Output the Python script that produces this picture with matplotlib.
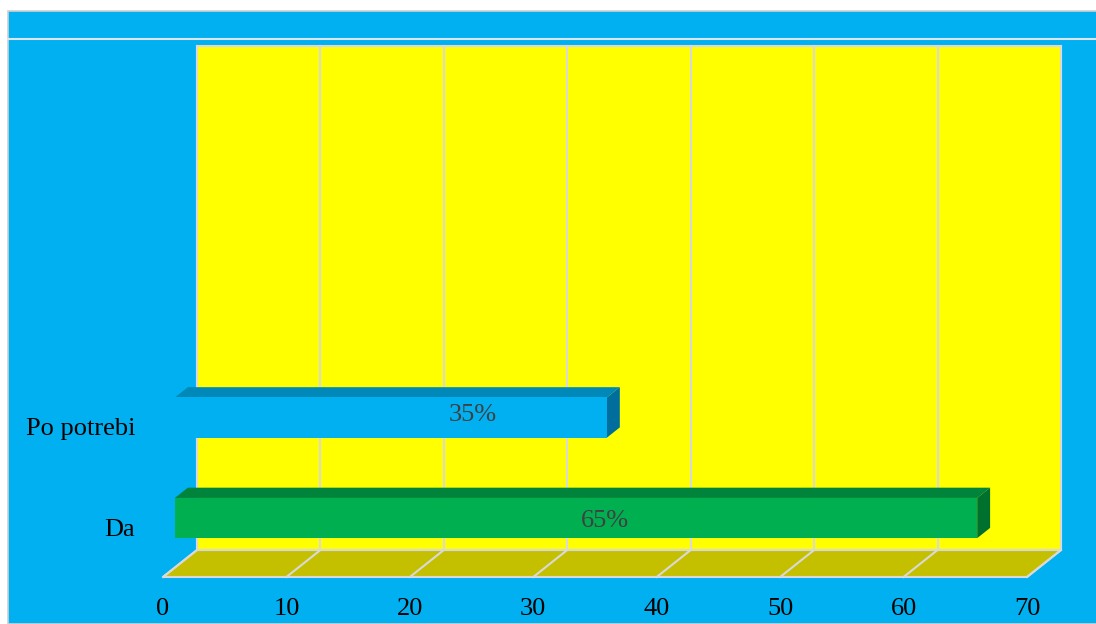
import matplotlib.pyplot as plt
from matplotlib.patches import Polygon, Rectangle

categories = ["Da", "Po potrebi"]
values = [65, 35]
value_labels = ["65%", "35%"]
label_pos = [34.85, 24.1]
label_shift = [-0.03, 0.03]
ticks = [0, 10, 20, 30, 40, 50, 60, 70]

front_colors = ["#00B050", "#00B0F0"]
top_colors = ["#00843C", "#0088B8"]
side_colors = ["#00702F", "#006E9C"]

BG = "#00B0F0"
WALL = "#FFFF00"
FLOOR_C = "#C4C000"
GRID = "#D9D9D9"

# depth offset of the 3D box (front -> back) in data units
DX = 2.755
DY = 0.2687
FLOOR = -0.4925
TOP = 4.522
BAR_H = 0.4
D0, D1 = 0.35, 0.73
FS = 19


def proj(v, y, d):
    return (v + d * DX, y + d * DY)


fig = plt.figure(figsize=(10.96, 6.24), dpi=100, facecolor="white")
fig.patches.append(Rectangle((8 / 1096, 0), 1, (624 - 11) / 624,
                             transform=fig.transFigure, facecolor=BG,
                             edgecolor="#D0D0D0", linewidth=1.2, zorder=-2))
fig.lines.append(plt.Line2D([8 / 1096, 1], [1 - 39 / 624, 1 - 39 / 624],
                            transform=fig.transFigure, color="#D9E6EE",
                            linewidth=1.5, zorder=-1))

ax = fig.add_axes([163 / 1096, 47 / 624, 864 / 1096, 531 / 624])
ax.set_xlim(0, 70)
ax.set_ylim(FLOOR, TOP + DY)
ax.patch.set_alpha(0)
for s in ax.spines.values():
    s.set_visible(False)

# floor and back wall
floor = [proj(0, FLOOR, 0), proj(70, FLOOR, 0), proj(70, FLOOR, 1), proj(0, FLOOR, 1)]
ax.add_patch(Polygon(floor, closed=True, facecolor=FLOOR_C, edgecolor=GRID,
                     linewidth=1.5, clip_on=False, zorder=1))
wall = [proj(0, FLOOR, 1), proj(70, FLOOR, 1), proj(70, TOP, 1), proj(0, TOP, 1)]
ax.add_patch(Polygon(wall, closed=True, facecolor=WALL, edgecolor=GRID,
                     linewidth=1.5, clip_on=False, zorder=1))

for v in ticks:
    a, b = proj(v, FLOOR, 1), proj(v, TOP, 1)
    ax.plot([a[0], b[0]], [a[1], b[1]], color=GRID, lw=1.5, clip_on=False, zorder=2)
    a, b = proj(v, FLOOR, 0), proj(v, FLOOR, 1)
    ax.plot([a[0], b[0]], [a[1], b[1]], color=GRID, lw=1.5, clip_on=False, zorder=2)

# 3D bars
for i, v in enumerate(values):
    lo, hi = i - BAR_H / 2, i + BAR_H / 2
    front = [proj(0, lo, D0), proj(v, lo, D0), proj(v, hi, D0), proj(0, hi, D0)]
    top = [proj(0, hi, D0), proj(v, hi, D0), proj(v, hi, D1), proj(0, hi, D1)]
    side = [proj(v, lo, D0), proj(v, hi, D0), proj(v, hi, D1), proj(v, lo, D1)]
    ax.add_patch(Polygon(top, closed=True, facecolor=top_colors[i], lw=0, zorder=3))
    ax.add_patch(Polygon(side, closed=True, facecolor=side_colors[i], lw=0, zorder=3))
    ax.add_patch(Polygon(front, closed=True, facecolor=front_colors[i], lw=0, zorder=4))
    lx, ly = proj(label_pos[i], i, D0)
    ax.text(lx, ly + label_shift[i], value_labels[i], ha="center", va="center",
            fontsize=FS, color="#404040", family="Liberation Serif", zorder=5)

ax.set_xticks(ticks)
ax.set_yticks(range(len(categories)), categories)
ax.tick_params(axis="both", length=0, labelsize=FS, labelcolor="black")
ax.tick_params(axis="x", pad=15)
ax.tick_params(axis="y", pad=20)
for lab in ax.get_xticklabels() + ax.get_yticklabels():
    lab.set_family("Liberation Serif")

fig.savefig("out.png", dpi=100, facecolor=fig.get_facecolor())
